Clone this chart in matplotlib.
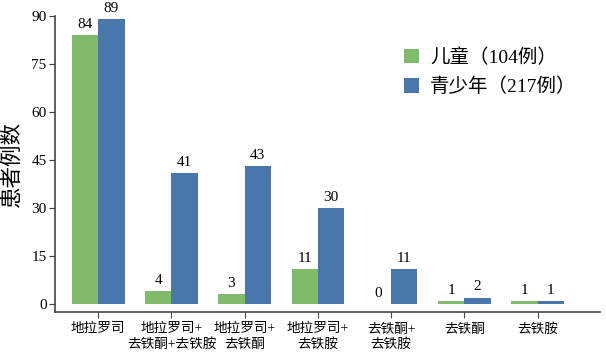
import matplotlib.pyplot as plt
import numpy as np

plt.rcParams['font.family'] = ['Liberation Serif', 'Noto Sans CJK SC']

categories = ['地拉罗司', '地拉罗司+\n去铁酮+去铁胺', '地拉罗司+\n去铁酮', '地拉罗司+\n去铁胺',
              '去铁酮+\n去铁胺', '去铁酮', '去铁胺']
children = [84, 4, 3, 11, 0, 1, 1]
teens = [89, 41, 43, 30, 11, 2, 1]
yticks = [0, 15, 30, 45, 60, 75, 90]

green = '#7fbb6a'
blue = '#4a77ab'
spine_c = '#444444'

fig = plt.figure(figsize=(6.06, 3.56), dpi=100)
ax = fig.add_axes([0.0908, 0.1236, 0.899, 0.831])

x = np.arange(len(categories))
w = 0.36
b1 = ax.bar(x - w/2, children, w, color=green, label='儿童（104例）')
b2 = ax.bar(x + w/2, teens, w, color=blue, label='青少年（217例）')

for rect, v in zip(b1, children):
    ax.text(rect.get_x() + rect.get_width()/2, v + 1.3, str(v), ha='center', va='bottom', fontsize=11)
for rect, v in zip(b2, teens):
    ax.text(rect.get_x() + rect.get_width()/2, v + 1.3, str(v), ha='center', va='bottom', fontsize=11)

ax.set_xlim(-0.59, 6.85)
ax.set_ylim(-2.5, 90)
ax.set_yticks(yticks)
ax.set_xticks(x)
ax.set_xticklabels(categories, fontsize=9.8, linespacing=1.25)
ax.tick_params(axis='y', labelsize=11, color=spine_c, length=4, pad=2)
ax.tick_params(axis='x', color=spine_c, length=4)
ax.set_ylabel('患者例数', fontsize=15.5, labelpad=6)

for s in ['top', 'right']:
    ax.spines[s].set_visible(False)
for s in ['left', 'bottom']:
    ax.spines[s].set_color(spine_c)
    ax.spines[s].set_linewidth(1.2)

ax.legend(loc='upper right', bbox_to_anchor=(0.99, 0.95), frameon=False, fontsize=14,
          handlelength=0.75, handleheight=0.75, handletextpad=0.6, labelspacing=0.55)

fig.savefig('out.png', dpi=100)
